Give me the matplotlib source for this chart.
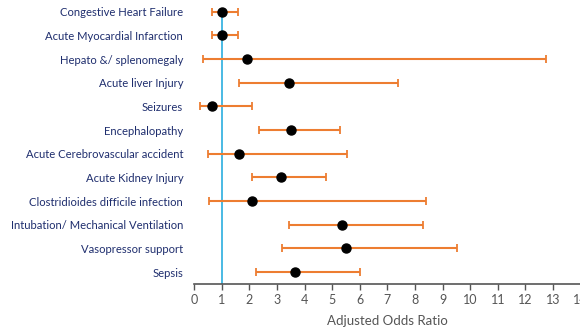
import matplotlib.pyplot as plt

outcomes = [
    "Congestive Heart Failure",
    "Acute Myocardial Infarction",
    "Hepato &/ splenomegaly",
    "Acute liver Injury",
    "Seizures",
    "Encephalopathy",
    "Acute Cerebrovascular accident",
    "Acute Kidney Injury",
    "Clostridioides difficile infection",
    "Intubation/ Mechanical Ventilation",
    "Vasopressor support",
    "Sepsis",
]
odds_ratio = [1.01, 1.00, 1.92, 3.44, 0.64, 3.50, 1.62, 3.14, 2.09, 5.34, 5.51, 3.66]
ci_lower = [0.64, 0.64, 0.32, 1.62, 0.22, 2.34, 0.50, 2.10, 0.53, 3.43, 3.19, 2.25]
ci_upper = [1.58, 1.58, 12.73, 7.38, 2.10, 5.27, 5.52, 4.76, 8.41, 8.29, 9.52, 6.00]
x_ticks = list(range(0, 15))

plt.rcParams["font.family"] = ["Lato", "DejaVu Sans"]

fig = plt.figure(figsize=(5.8, 3.27), dpi=100)
ax = fig.add_axes([0.335, 0.1315, 0.666, 0.8685])

n = len(outcomes)
ypos = list(range(n - 1, -1, -1))
xerr = [[o - lo for o, lo in zip(odds_ratio, ci_lower)],
        [hi - o for o, hi in zip(odds_ratio, ci_upper)]]

# reference line at OR = 1
ax.plot([1, 1], [-0.5, n - 1], color="#3ab4e2", lw=1.3, zorder=1)

ax.errorbar(odds_ratio, ypos, xerr=xerr, fmt="o", color="black",
            ecolor="#ed7d31", elinewidth=1.5, capsize=3, capthick=1.3,
            markersize=6.5, zorder=3)

ax.set_xlim(0, 14)
ax.set_ylim(-0.5, n - 0.5)
ax.set_xticks(x_ticks)
ax.set_yticks(ypos)
ax.set_yticklabels(outcomes, color="#1f2e6e", fontsize=8.1)
ax.tick_params(axis="y", length=0, pad=8)
ax.tick_params(axis="x", colors="#555555", labelsize=9, length=4, width=1)
for s in ["top", "right", "left"]:
    ax.spines[s].set_visible(False)
ax.spines["bottom"].set_color("#555555")
ax.spines["bottom"].set_linewidth(1.2)
ax.set_xlabel("Adjusted Odds Ratio", color="#555555", fontsize=9.5, labelpad=6)

fig.savefig("out.png", dpi=100)
